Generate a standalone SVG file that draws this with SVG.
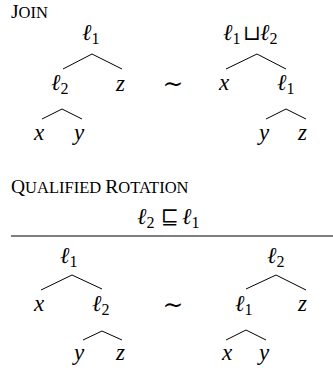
<svg xmlns="http://www.w3.org/2000/svg" width="333" height="372" viewBox="0 0 333 372">
<style>
text{font-family:"Liberation Serif","DejaVu Serif",serif;fill:#000}
.m{font-size:23px;font-style:italic}
.s{font-size:16px;font-style:normal}
.op{font-size:21px;font-style:normal}
.sim{font-size:25px;font-style:normal}
.rn{font-size:19.5px}
.sc{font-size:16.5px}
.e{stroke:#000;stroke-width:1;fill:none}
</style>
<rect width="333" height="372" fill="#fff"/>
<g id="labels">
<text class="rn" x="11" y="17.5">J<tspan class="sc">OIN</tspan></text>
<text class="rn" x="11" y="193">Q<tspan class="sc">UALIFIED </tspan>R<tspan class="sc">OTATION</tspan></text>
</g>
<g id="premise">
<text class="m" x="137" y="224">ℓ<tspan class="s" dy="4">2</tspan></text>
<text class="op" x="161" y="224">⊑</text>
<text class="m" x="182" y="224">ℓ<tspan class="s" dy="4">1</tspan></text>
</g>
<g id="sim1"><text class="sim" x="173" y="92" text-anchor="middle">∼</text></g>
<g id="sim2"><text class="sim" x="173" y="313" text-anchor="middle">∼</text></g>
<g id="j-l1"><text class="m" x="82" y="40">ℓ<tspan class="s" dy="4">1</tspan></text></g>
<g id="j-l2"><text class="m" x="51" y="90">ℓ<tspan class="s" dy="4">2</tspan></text></g>
<g id="j-z"><text class="m" x="116" y="91">z</text></g>
<g id="j-x"><text class="m" x="34" y="140">x</text></g>
<g id="j-y"><text class="m" x="74" y="140">y</text></g>
<g id="j-join"><text class="m" x="223" y="40">ℓ<tspan class="s" dy="4">1</tspan></text><text class="op" x="243" y="40">⊔</text><text class="m" x="260" y="40">ℓ<tspan class="s" dy="4">2</tspan></text></g>
<g id="j-x2"><text class="m" x="219" y="90">x</text></g>
<g id="j-l1b"><text class="m" x="277" y="90">ℓ<tspan class="s" dy="4">1</tspan></text></g>
<g id="j-y2"><text class="m" x="259" y="140">y</text></g>
<g id="j-z2"><text class="m" x="298" y="140">z</text></g>
<g id="r-l1"><text class="m" x="60" y="263">ℓ<tspan class="s" dy="4">1</tspan></text></g>
<g id="r-x"><text class="m" x="34" y="311">x</text></g>
<g id="r-l2"><text class="m" x="92" y="311">ℓ<tspan class="s" dy="4">2</tspan></text></g>
<g id="r-y"><text class="m" x="74" y="360">y</text></g>
<g id="r-z"><text class="m" x="116" y="360">z</text></g>
<g id="r-l2b"><text class="m" x="267" y="263">ℓ<tspan class="s" dy="4">2</tspan></text></g>
<g id="r-l1b"><text class="m" x="235" y="311">ℓ<tspan class="s" dy="4">1</tspan></text></g>
<g id="r-z2"><text class="m" x="298" y="311">z</text></g>
<g id="r-x2"><text class="m" x="222" y="360">x</text></g>
<g id="r-y2"><text class="m" x="259" y="360">y</text></g>
<g id="connectors">
<polyline class="e" points="63,69 92,54 122,69"/>
<polyline class="e" points="42,119 62,109 82,119"/>
<polyline class="e" points="226,69 257,54 286,69"/>
<polyline class="e" points="266,119 286,109 306,119"/>
<line class="e" x1="11" y1="236" x2="333" y2="236"/>
<polyline class="e" points="41,290 72,275 102,289"/>
<polyline class="e" points="83,340 102,331 122,340"/>
<polyline class="e" points="246,289 276,275 306,290"/>
<polyline class="e" points="226,340 246,330 266,340"/>
</g>
</svg>
